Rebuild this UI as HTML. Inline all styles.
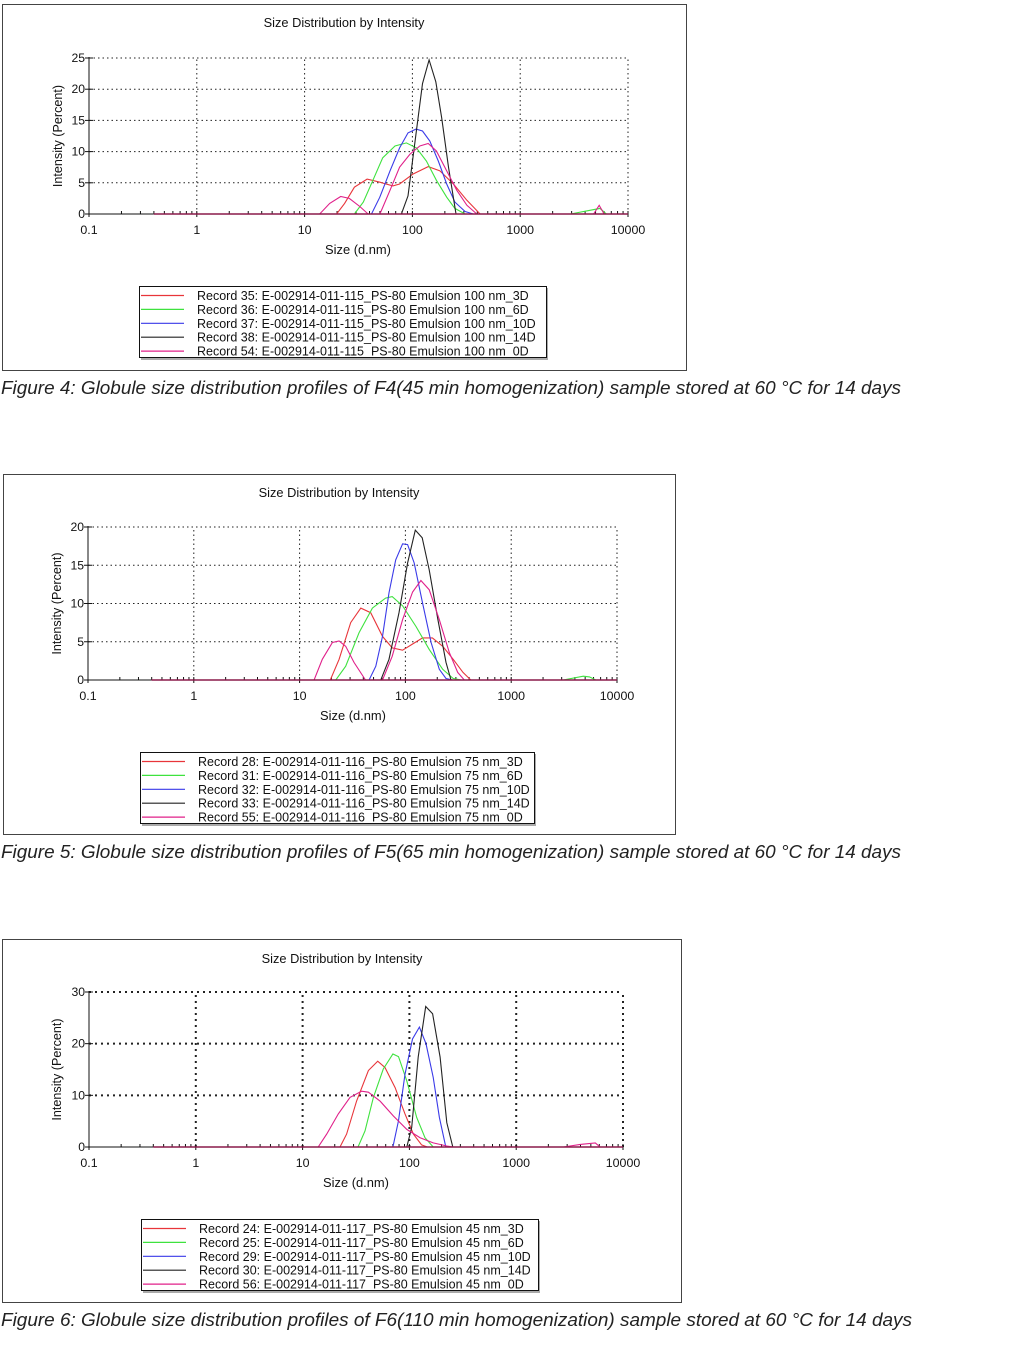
<!DOCTYPE html>
<html><head><meta charset="utf-8"><style>
body{margin:0;background:#fff;}
svg{display:block;font-family:"Liberation Sans",Arial,sans-serif;}
</style></head><body>
<svg id="s" width="1025" height="1356" viewBox="0 0 1025 1356"></svg>
<script>
const xTickLabels=["0.1","1","10","100","1000","10000"];
const colors=["#e8353a","#3ee23e","#3a3ae8","#222222","#e0208a"];
// Figure 4
const f4YTicks=[0,5,10,15,20,25];
const f4RedSize=[0.4,19.8,23.5,29,38,50,66,76,101,140,180,240,320,425,10000];
const f4RedVal=[0,0,1.7,4.3,5.6,5.1,4.5,4.8,6.4,7.6,6.9,4.8,2.2,0,0];
const f4GreenSize=[0.4,29,35,43,53,69,88,109,135,167,208,248,308,2930,5500,6300,10000];
const f4GreenVal=[0,0,1.9,5.4,9,10.9,11.4,10.6,8.5,5.4,2.7,0.9,0,0,0.9,0,0];
const f4BlueSize=[0.4,41.7,49.8,62,76,91,108,124,145,174,208,248,308,367,10000];
const f4BlueVal=[0,0,2.7,6.9,10.6,13,13.6,13.3,11.7,8.5,4.8,1.9,0.4,0,0];
const f4BlackSize=[0.4,79,91,124,143,165,187,216,254,10000];
const f4BlackVal=[0,0,2.9,20.9,24.7,21.2,15.4,7.5,0,0];
const f4PinkSize=[0.4,13.8,17.1,21.6,26,32.5,38.8,50,62,76,95,117,140,167,208,258,320,396,4800,5400,6000,10000];
const f4PinkVal=[0,0,1.7,2.8,2.5,1.2,0,0,3.8,7.5,9.6,10.9,11.3,10.1,6.9,3.8,1.4,0,0,1.4,0,0];
const f4Legend=["Record 35: E-002914-011-115_PS-80 Emulsion 100 nm_3D","Record 36: E-002914-011-115_PS-80 Emulsion 100 nm_6D","Record 37: E-002914-011-115_PS-80 Emulsion 100 nm_10D","Record 38: E-002914-011-115_PS-80 Emulsion 100 nm_14D","Record 54: E-002914-011-115_PS-80 Emulsion 100 nm_0D"];
// Figure 5
const f5YTicks=[0,5,10,15,20];
const f5RedSize=[0.4,19.5,23.6,30.4,37.9,47,60.7,75,94,117,145,180,225,283,350,415,10000];
const f5RedVal=[0,0,2.7,7.5,9.4,8.8,5.7,4.2,3.9,4.7,5.5,5.5,4.4,2.7,1,0,0];
const f5GreenSize=[0.4,22,27.3,36.5,48.8,65,75,94,126,168,225,283,340,3100,4800,5500,6300,10000];
const f5GreenVal=[0,0,1.8,6.2,9.4,10.7,10.9,9.7,7,4,1.4,0.2,0,0,0.5,0.4,0,0];
const f5BlueSize=[0.4,45.4,52.5,60.7,70,81,94,105,121,145,175,209,242,280,10000];
const f5BlueVal=[0,0,1.8,5.7,11.4,15.7,17.8,17.7,15.3,10.1,4.9,1.4,0.2,0,0];
const f5BlackSize=[0.4,58.5,70,87,105,124,144,168,203,242,270,10000];
const f5BlackVal=[0,0,2.7,8.8,15.3,19.6,18.6,14.4,7.9,2.3,0,0];
const f5PinkSize=[0.4,13.7,16.4,20.4,23.6,27.3,32.7,42,60.7,75,94,117,140,168,209,260,312,360,10000];
const f5PinkVal=[0,0,2.7,4.9,5.1,4.4,2.3,0,0,3.1,7.9,11.5,13,11.8,7.9,3.6,1,0,0];
const f5Legend=["Record 28: E-002914-011-116_PS-80 Emulsion 75 nm_3D","Record 31: E-002914-011-116_PS-80 Emulsion 75 nm_6D","Record 32: E-002914-011-116_PS-80 Emulsion 75 nm_10D","Record 33: E-002914-011-116_PS-80 Emulsion 75 nm_14D","Record 55: E-002914-011-116_PS-80 Emulsion 75 nm_0D"];
// Figure 6
const f6YTicks=[0,10,20,30];
const f6RedSize=[0.4,22.4,25.8,32,41.3,50.5,59,73.5,91,109,130,147,10000];
const f6RedVal=[0,0,2.5,8.9,14.8,16.6,15.4,11.5,6.4,2.5,0.4,0,0];
const f6GreenSize=[0.4,33,38.4,46,57,70,79,94.5,117,140,167,10000];
const f6GreenVal=[0,0,3.1,9.6,15.1,18,17.5,12.8,5.7,1.8,0,0];
const f6BlueSize=[0.4,70,79,91,107,124,143,167,191,219,10000];
const f6BlueVal=[0,0,5.1,14.1,20.9,23.2,20,13.5,5.7,0,0];
const f6BlackSize=[0.4,94.5,105,121,142,165,194,224,255,10000];
const f6BlackVal=[0,0,3.8,17.4,27.2,25.8,17.4,4.7,0,0];
const f6PinkSize=[0.4,14,16.8,21.6,27.8,35.7,41.3,53,70.8,94.5,126,167,224,258,2770,3980,5500,6100,10000];
const f6PinkVal=[0,0,2.5,6.4,9.6,10.8,10.6,8.9,6,3.4,1.8,0.8,0.2,0,0,0.5,0.8,0,0];
const f6Legend=["Record 24: E-002914-011-117_PS-80 Emulsion 45 nm_3D","Record 25: E-002914-011-117_PS-80 Emulsion 45 nm_6D","Record 29: E-002914-011-117_PS-80 Emulsion 45 nm_10D","Record 30: E-002914-011-117_PS-80 Emulsion 45 nm_14D","Record 56: E-002914-011-117_PS-80 Emulsion 45 nm_0D"];

const NS="http://www.w3.org/2000/svg";
const svg=document.getElementById('s');
function mk(tag,attrs,parent,text){const e=document.createElementNS(NS,tag);for(const k in attrs)e.setAttribute(k,attrs[k]);if(text!==undefined)e.textContent=text;(parent||svg).appendChild(e);return e;}

function chart(id,cfg,yTicks,series,legend,caption){
  const g=mk('g',{});
  
  
  const X=v=>cfg.x0+(Math.log10(v)+1)*(cfg.x1-cfg.x0)/5;
  const ymax=yTicks[yTicks.length-1];
  const Y=v=>cfg.y0-v*(cfg.y0-cfg.y1)/ymax;
  const fr=mk('rect',{x:cfg.fx+0.5,y:cfg.fy+0.5,width:cfg.fw,height:cfg.fh,fill:'#fff',stroke:'#444','stroke-width':1},g);
  
  const t=mk('text',{x:cfg.tx,y:cfg.ty,'font-size':12.8,'text-anchor':'middle',fill:'#111'},g,'Size Distribution by Intensity');
  
  const grid=mk('g',{stroke:'#222','stroke-width':cfg.gw,'stroke-dasharray':cfg.dash},g);
  
  for(let i=1;i<yTicks.length;i++){mk('line',{x1:cfg.x0,x2:cfg.x1,y1:Y(yTicks[i]),y2:Y(yTicks[i])},grid);}
  for(let d=1;d<=5;d++){const v=Math.pow(10,d-1);mk('line',{x1:X(v),x2:X(v),y1:cfg.y0,y2:Y(ymax)},grid);}
  const ax=mk('g',{stroke:'#111','stroke-width':1},g);
  
  mk('line',{x1:cfg.x0,x2:cfg.x0,y1:cfg.y0,y2:Y(ymax)-1},ax);
  mk('line',{x1:cfg.x0-3,x2:cfg.x1,y1:cfg.y0,y2:cfg.y0},ax);
  yTicks.forEach(v=>{mk('line',{x1:cfg.x0-4,x2:cfg.x0+4,y1:Y(v),y2:Y(v)},ax);
    const l=mk('text',{x:cfg.x0-4,y:Y(v)+4,'font-size':12.2,'text-anchor':'end',fill:'#111',stroke:'none'},g,String(v));
    });
  for(let d=0;d<5;d++){for(let m=1;m<10;m++){const v=Math.pow(10,d-1)*m;mk('line',{x1:X(v),x2:X(v),y1:cfg.y0-3,y2:cfg.y0+(m==1?3:0)},ax);}}
  mk('line',{x1:cfg.x1,x2:cfg.x1,y1:cfg.y0-3,y2:cfg.y0+3},ax);
  xTickLabels.forEach((s,i)=>{const l=mk('text',{x:X(Math.pow(10,i-1)),y:cfg.y0+20,'font-size':12.4,'text-anchor':'middle',fill:'#111'},g,s);
    });
  const xl=mk('text',{x:cfg.xlx,y:cfg.xly,'font-size':12.9,'text-anchor':'middle',fill:'#111'},g,'Size (d.nm)');
  
  const yc=(cfg.y0+Y(ymax))/2;
  const yl=mk('text',{x:0,y:0,'font-size':12.6,'text-anchor':'middle',fill:'#111',transform:`translate(${cfg.ylx},${yc}) rotate(-90)`},g,'Intensity (Percent)');
  
  const names=['series-3d','series-6d','series-10d','series-14d','series-0d'];
  series.forEach((sr,i)=>{
    const pts=sr[0].map((s,j)=>X(s).toFixed(1)+','+Y(sr[1][j]).toFixed(1)).join(' ');
    const p=mk('polyline',{points:pts,fill:'none',stroke:colors[i],'stroke-width':1.1},g);
    
  });
  mk('line',{x1:X(0.4),x2:cfg.x1,y1:cfg.y0,y2:cfg.y0,stroke:'#8a1a4a','stroke-width':1.6},g);
  const lg=mk('g',{},g);
  
  mk('rect',{x:cfg.lx+2,y:cfg.ly+2,width:cfg.lw,height:72,fill:'#aaa'},lg);
  mk('rect',{x:cfg.lx+0.5,y:cfg.ly+0.5,width:cfg.lw,height:71,fill:'#fff',stroke:'#111'},lg);
  legend.forEach((s,i)=>{const yy=cfg.ly+9.5+i*13.9;
    const e=mk('g',{},lg);
    mk('line',{x1:cfg.lx+2,x2:cfg.lx+45,y1:yy,y2:yy,stroke:colors[i],'stroke-width':1.2},e);
    mk('text',{x:cfg.lx+58,y:yy+4.5,'font-size':12.5,fill:'#111'},e,s);});
  const c=mk('text',{x:1,y:cfg.cy,'font-size':18,'font-style':'italic',fill:'#222',textLength:cfg.cw,lengthAdjust:'spacingAndGlyphs'},svg,caption);
  
}
chart('figure-4-chart',{fx:2,fy:4,fw:684,fh:366,x0:89,x1:628,y0:214,y1:58,tx:344,ty:27,gw:1,dash:'1.5,3',xlx:358,xly:254,ylx:62,lx:139,ly:286,lw:407,cy:394,cw:900},
  f4YTicks,[[f4RedSize,f4RedVal],[f4GreenSize,f4GreenVal],[f4BlueSize,f4BlueVal],[f4BlackSize,f4BlackVal],[f4PinkSize,f4PinkVal]],f4Legend,
  'Figure 4: Globule size distribution profiles of F4(45 min homogenization) sample stored at 60 °C for 14 days');
chart('figure-5-chart',{fx:3,fy:474,fw:672,fh:360,x0:88,x1:617,y0:680,y1:527,tx:339,ty:497,gw:1,dash:'1.5,3',xlx:353,xly:720,ylx:61,lx:140,ly:752,lw:394,cy:858,cw:900},
  f5YTicks,[[f5RedSize,f5RedVal],[f5GreenSize,f5GreenVal],[f5BlueSize,f5BlueVal],[f5BlackSize,f5BlackVal],[f5PinkSize,f5PinkVal]],f5Legend,
  'Figure 5: Globule size distribution profiles of F5(65 min homogenization) sample stored at 60 °C for 14 days');
chart('figure-6-chart',{fx:2,fy:939,fw:679,fh:363,x0:89,x1:623,y0:1147,y1:992,tx:342,ty:963,gw:2,dash:'2,4',xlx:356,xly:1187,ylx:61,lx:141,ly:1219,lw:397,cy:1326,cw:911},
  f6YTicks,[[f6RedSize,f6RedVal],[f6GreenSize,f6GreenVal],[f6BlueSize,f6BlueVal],[f6BlackSize,f6BlackVal],[f6PinkSize,f6PinkVal]],f6Legend,
  'Figure 6: Globule size distribution profiles of F6(110 min homogenization) sample stored at 60 °C for 14 days');
</script>
</body></html>
